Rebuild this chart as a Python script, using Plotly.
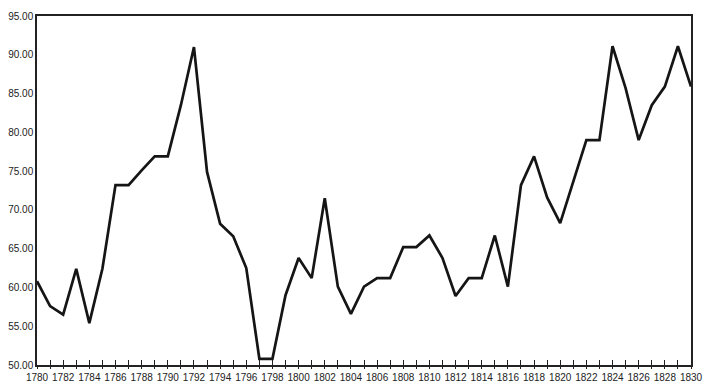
import plotly.graph_objects as go

years = list(range(1780, 1831))
values = [60.8, 57.6, 56.5, 62.4, 55.4, 62.4, 73.2, 73.2, 75.1, 76.9,
          76.9, 83.5, 91.0, 74.9, 68.2, 66.6, 62.5, 50.8, 50.8, 59.0,
          63.8, 61.2, 71.5, 60.1, 56.6, 60.1, 61.2, 61.2, 65.2, 65.2,
          66.7, 63.8, 58.9, 61.2, 61.2, 66.7, 60.1, 73.2, 76.9, 71.6,
          68.3, 73.6, 79.0, 79.0, 91.1, 85.7, 79.0, 83.5, 85.9, 91.1,
          85.9]
ytick_vals = [50, 55, 60, 65, 70, 75, 80, 85, 90, 95]
xtick_text = [str(y) if y % 2 == 0 else "" for y in years]

fig = go.Figure()
fig.add_trace(go.Scatter(x=years, y=values, mode="lines",
                         line=dict(color="#151515", width=2.7),
                         showlegend=False, hoverinfo="skip"))
# invisible trace on overlay axis to enable inside ticks
fig.add_trace(go.Scatter(x=[years[0], years[-1]], y=[values[0], values[-1]],
                         xaxis="x2", mode="lines", line=dict(width=0),
                         showlegend=False, hoverinfo="skip"))

font = dict(family="Liberation Sans, Arial", size=10, color="#222")
fig.update_layout(
    width=705, height=385,
    margin=dict(l=37, r=14, t=16, b=20, autoexpand=False),
    paper_bgcolor="white", plot_bgcolor="white",
    xaxis=dict(range=[1780, 1830], tickmode="array", tickvals=years,
               ticktext=xtick_text, ticks="outside", ticklen=2,
               tickwidth=1.2, tickcolor="#222", showgrid=False,
               zeroline=False, showline=True, linecolor="#222",
               linewidth=1.5, mirror=True, tickfont=font, automargin=False),
    xaxis2=dict(range=[1780, 1830], overlaying="x", anchor="y",
                side="bottom", tickmode="array", tickvals=years,
                ticks="inside", ticklen=5, tickwidth=1.2, tickcolor="#222",
                showticklabels=False, showgrid=False, zeroline=False,
                showline=False, automargin=False),
    yaxis=dict(range=[50, 95], tickmode="array", tickvals=ytick_vals,
               tickformat=".2f", ticks="", showgrid=False, zeroline=False,
               showline=True, linecolor="#222", linewidth=1.5,
               mirror=True, tickfont=font, automargin=False),
)
fig.write_html("out.html")
